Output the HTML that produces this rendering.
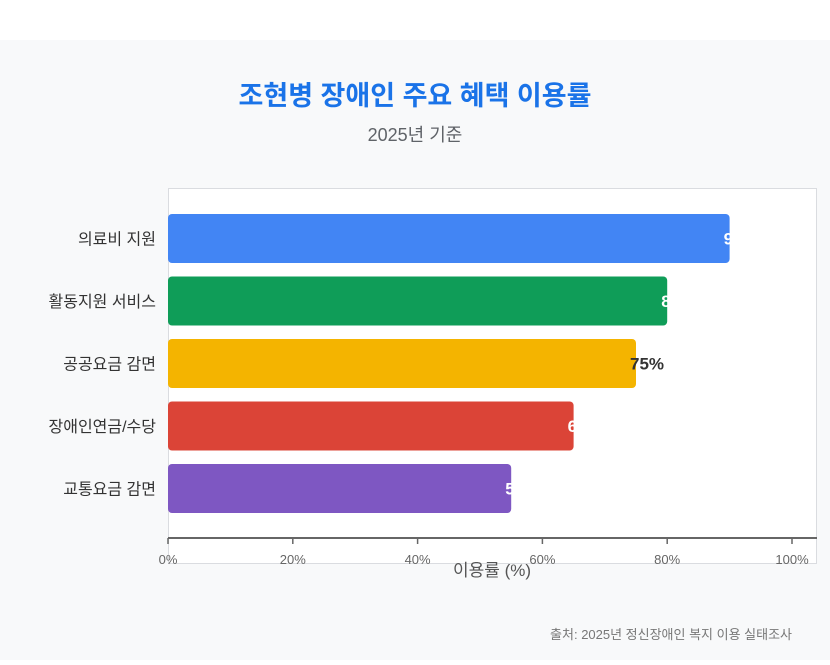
<!DOCTYPE html>
<html><head><meta charset="utf-8"><style>
body{margin:0;width:830px;height:665px;background:#fff;font-family:"Liberation Sans","Noto Sans CJK KR",sans-serif;overflow:hidden;position:relative}
#panel{position:absolute;left:0;top:40px;width:830px;height:620px;background:#f8f9fa}
h1{position:absolute;top:74px;width:830px;text-align:center;margin:0;font-size:27px;color:#1a73e8;font-weight:bold}
.sub{position:absolute;top:121px;width:830px;text-align:center;font-size:18px;color:#5f6368}
.src{position:absolute;top:624px;right:38px;font-size:13px;color:#777}
svg{position:absolute;left:0;top:0}
</style></head><body>
<div id="panel"></div>
<h1>조현병 장애인 주요 혜택 이용률</h1>
<div class="sub">2025년 기준</div>
<svg id="c" width="830" height="665"></svg>
<div class="src">출처: 2025년 정신장애인 복지 이용 실태조사</div>
<script>
const categories=["의료비 지원","활동지원 서비스","공공요금 감면","장애인연금/수당","교통요금 감면"];
const values=[90,80,75,65,55];
const colors=["#4285f4","#0f9d58","#f4b400","#db4437","#7e57c2"];
const labelColors=["#fff","#fff","#333","#fff","#fff"];
const ticks=[0,20,40,60,80,100];
const NS="http://www.w3.org/2000/svg",svg=document.getElementById('c');
const x0=168,x1=792,top0=214,step=62.5,bh=49;
const xs=v=>x0+(x1-x0)*v/100;
const ys=i=>top0+i*step;
function mk(t,a,txt){const e=document.createElementNS(NS,t);for(const k in a)e.setAttribute(k,a[k]);if(txt!=null)e.textContent=txt;svg.appendChild(e);return e;}
const box=mk('rect',{x:168.5,y:188.5,width:648,height:375,fill:'#fff',stroke:'#dadce0'});


values.forEach((v,i)=>{
 const r=mk('rect',{x:x0,y:ys(i),width:xs(v)-x0,height:bh,rx:4,fill:colors[i]});
 
 
 const l=mk('text',{x:xs(v)-6,y:ys(i)+bh/2+6,'font-size':17,'font-weight':'bold',fill:labelColors[i]},v+'%');
 
 
 const c=mk('text',{x:156,y:ys(i)+bh/2+6,'text-anchor':'end','font-size':16,fill:'#333'},categories[i]);
 
 
});
const ax=mk('line',{x1:168,x2:817,y1:538,y2:538,stroke:'#666','stroke-width':2});


ticks.forEach(t=>{
 const tk=mk('line',{x1:xs(t),x2:xs(t),y1:538,y2:544,stroke:'#666','stroke-width':1.5});
 
 
 const tl=mk('text',{x:xs(t),y:564,'text-anchor':'middle','font-size':13,fill:'#666'},t+'%');
 
 
});
const at=mk('text',{x:492,y:576,'text-anchor':'middle','font-size':17,fill:'#555'},'이용률 (%)');


</script>
</body></html>
